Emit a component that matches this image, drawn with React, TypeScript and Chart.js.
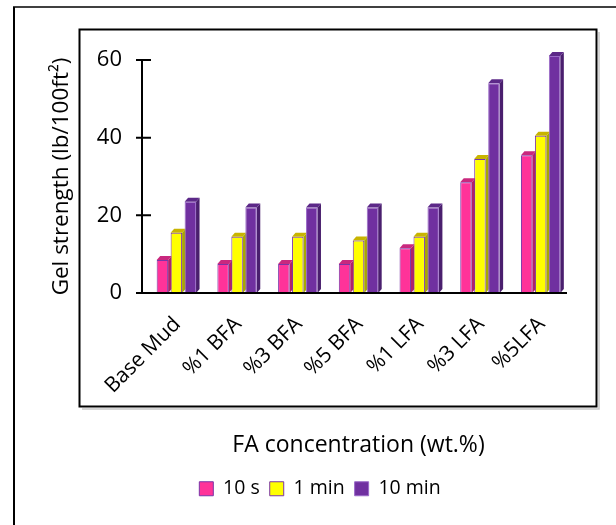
import React, { useEffect, useRef } from 'react';
import { Chart, registerables } from 'chart.js';

Chart.register(...registerables);

const categories = ['Base Mud', '%1 BFA', '%3 BFA', '%5 BFA', '%1 LFA', '%3 LFA', '%5LFA'];
const seriesNames = ['10 s', '1 min', '10 min'];
const gel10s = [8.5, 7.5, 7.5, 7.5, 11.5, 28.5, 35.5];
const gel1min = [15.5, 14.5, 14.5, 13.5, 14.5, 34.5, 40.5];
const gel10min = [23.5, 22, 22, 22, 22, 54, 61];
const yTicks = [0, 20, 40, 60];

const FRONT = ['#FF3399', '#FFFF00', '#7030A0'];
const SIDE = ['#B0226A', '#A8A800', '#4A1F6E'];
const TOP = ['#C9287E', '#C8B400', '#5C2888'];
const EDGE = ['#7A35A8', '#7A35A8', '#9A6AC8'];
const FONT = '"Open Sans", "Noto Sans", sans-serif';

export default function App() {
  const ref = useRef<HTMLCanvasElement | null>(null);

  useEffect(() => {
    const canvas = ref.current;
    if (!canvas) return;
    const AXIS_SHIFT = 4;

    const framePlugin = {
      id: 'frames',
      beforeDraw(chart: any) {
        const ctx = chart.ctx;
        ctx.save();
        ctx.fillStyle = '#ffffff';
        ctx.fillRect(0, 0, chart.width, chart.height);
        ctx.strokeStyle = '#000';
        ctx.lineWidth = 2;
        ctx.beginPath();
        ctx.moveTo(14, chart.height + 5);
        ctx.lineTo(14, 7);
        ctx.stroke();
        ctx.lineWidth = 1.5;
        ctx.beginPath();
        ctx.moveTo(13, 7);
        ctx.lineTo(chart.width + 5, 7);
        ctx.stroke();
        ctx.strokeStyle = '#c8c8c8';
        ctx.lineWidth = 1.5;
        ctx.beginPath();
        ctx.moveTo(599, 32);
        ctx.lineTo(599, 409);
        ctx.lineTo(82, 409);
        ctx.stroke();
        ctx.strokeStyle = '#000';
        ctx.lineWidth = 2;
        ctx.strokeRect(79.5, 29.5, 517, 377);
        ctx.restore();
      },
    };

    const depthPlugin = {
      id: 'depth3d',
      beforeDatasetsDraw(chart: any) {
        const ctx = chart.ctx;
        const dx = 3.5;
        const dy = 4;
        ctx.save();
        chart.data.datasets.forEach((_ds: any, i: number) => {
          const meta = chart.getDatasetMeta(i);
          meta.data.forEach((bar: any) => {
            const { x, y, base, width } = bar.getProps(['x', 'y', 'base', 'width'], true);
            const l = x - width / 2;
            const r = x + width / 2;
            ctx.fillStyle = SIDE[i];
            ctx.beginPath();
            ctx.moveTo(r, y);
            ctx.lineTo(r + dx, y - dy);
            ctx.lineTo(r + dx, base - dy);
            ctx.lineTo(r, base);
            ctx.closePath();
            ctx.fill();
            ctx.fillStyle = TOP[i];
            ctx.beginPath();
            ctx.moveTo(l, y);
            ctx.lineTo(l + dx, y - dy);
            ctx.lineTo(r + dx, y - dy);
            ctx.lineTo(r, y);
            ctx.closePath();
            ctx.fill();
          });
        });
        ctx.restore();
      },
    };

    const axesPlugin = {
      id: 'axesLines',
      afterDatasetsDraw(chart: any) {
        const ctx = chart.ctx;
        const xs = chart.scales.x;
        const ys = chart.scales.y;
        const ax = xs.left - AXIS_SHIFT;
        const y0 = ys.getPixelForValue(0);
        ctx.save();
        ctx.strokeStyle = '#000';
        ctx.lineWidth = 2;
        ctx.beginPath();
        ctx.moveTo(ax, ys.getPixelForValue(yTicks[yTicks.length - 1]));
        ctx.lineTo(ax, y0);
        ctx.moveTo(ax - 6, y0);
        ctx.lineTo(xs.right - AXIS_SHIFT, y0);
        yTicks.forEach((v) => {
          const py = ys.getPixelForValue(v);
          ctx.moveTo(ax - 6, py);
          ctx.lineTo(ax + 9, py);
        });
        ctx.stroke();
        ctx.restore();
      },
    };

    const mk = (i: number, data: number[]) => ({
      label: seriesNames[i],
      data,
      backgroundColor: FRONT[i],
      borderColor: EDGE[i],
      borderWidth: 1,
      clip: false as any,
      categoryPercentage: 0.69,
      barPercentage: 0.82,
    });

    const chart = new Chart(canvas, {
      type: 'bar',
      data: {
        labels: categories,
        datasets: [mk(0, gel10s), mk(1, gel1min), mk(2, gel10min)],
      },
      plugins: [framePlugin, depthPlugin, axesPlugin],
      options: {
        responsive: false,
        maintainAspectRatio: false,
        animation: false,
        events: [],
        layout: { padding: { left: 69, right: 45, top: 60, bottom: 16.5 } },
        plugins: {
          tooltip: { enabled: false },
          legend: {
            position: 'bottom',
            labels: {
              boxWidth: 14,
              boxHeight: 14,
              padding: 10,
              color: '#000',
              font: { family: FONT, size: 19.5 },
            },
          },
        },
        scales: {
          x: {
            grid: { display: false, drawTicks: false },
            border: { display: false },
            ticks: {
              color: '#000',
              font: { family: FONT, size: 21 },
              minRotation: 45,
              maxRotation: 45,
              padding: 19,
              labelOffset: 1,
            },
            title: {
              display: true,
              text: 'FA concentration (wt.%)',
              color: '#000',
              font: { family: FONT, size: 23 },
              padding: { top: 0, bottom: 10 },
            },
            afterFit: (s: any) => {
              s.height = 176;
            },
          },
          y: {
            min: 0,
            max: 60,
            grid: { display: false, drawTicks: false },
            border: { display: false },
            afterBuildTicks: (s: any) => {
              s.ticks = yTicks.map((v) => ({ value: v }));
            },
            ticks: {
              color: '#000',
              font: { family: FONT, size: 22 },
              padding: 24,
            },
            title: {
              display: true,
              text: 'Gel strength (lb/100ft²)',
              color: '#000',
              font: { family: FONT, size: 22.5 },
              padding: { top: -21, bottom: 0 },
            },
            afterFit: (s: any) => {
              s.width = 77;
            },
          },
        },
      } as any,
    });

    return () => {
      chart.destroy();
    };
  }, []);

  return (
    <div style={{ position: 'absolute', left: 0, top: 0, width: 616, height: 525, background: '#fff' }}>
      <canvas ref={ref} width={616} height={525} />
    </div>
  );
}
